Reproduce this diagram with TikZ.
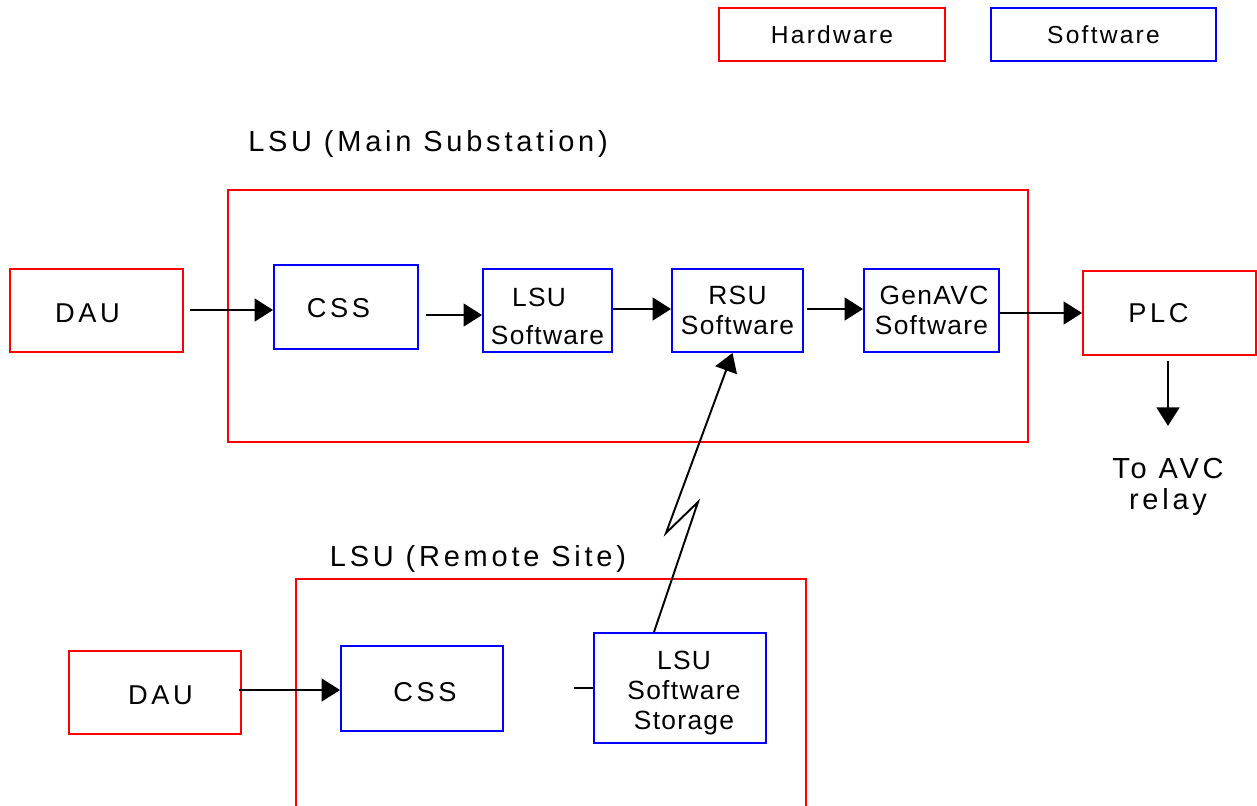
\documentclass[tikz,border=0pt]{standalone}
\usepackage{fontspec}
\setmainfont{Liberation Sans}
\newfontfamily\wideface[LetterSpace=13]{Liberation Sans}
\newfontfamily\midface[LetterSpace=9]{Liberation Sans}
\newfontfamily\boxface[LetterSpace=5]{Liberation Sans}
\usetikzlibrary{arrows.meta,calc}
\definecolor{hwred}{RGB}{255,0,0}
\definecolor{swblue}{RGB}{0,0,255}
\tikzset{
  hw/.style={draw=hwred, line width=1.1pt, inner sep=0pt},
  sw/.style={draw=swblue, line width=1.1pt, inner sep=0pt, align=center},
  titletxt/.style={font=\wideface\fontsize{16.5}{18}\selectfont},
  bigtxt/.style={font=\wideface\fontsize{15.5}{18}\selectfont, text depth=0pt},
  boxtxt/.style={font=\boxface\fontsize{15}{17}\selectfont, align=center, inner sep=0pt},
  legtxt/.style={font=\midface\fontsize{14}{17}\selectfont},
  arr/.style={line width=1.1pt, -{Triangle[length=10.5pt,width=13pt]}},
  wire/.style={line width=1.1pt}
}
\begin{document}
\begin{tikzpicture}[x=0.02cm,y=-0.02cm]
\useasboundingbox (0,0) rectangle (1257,805);
\clip (0,0) rectangle (1257,805);
% legend
\node[hw, legtxt, minimum width=4.52cm, minimum height=1.06cm] (hwleg) at (832,34.5) {Hardware};
\node[sw, legtxt, minimum width=4.5cm, minimum height=1.06cm] (swleg) at (1103.5,34.5) {Software};
% main substation
\node[titletxt] (maintitle) at (428,144) {LSU (Main Substation)};
\node[hw, minimum width=16cm, minimum height=5.04cm] (mainbox) at (628,316) {};
\node[hw, bigtxt, text height=14.2pt, minimum width=3.46cm, minimum height=1.66cm] (dau1) at (96.5,310.5) {\hspace*{-0.36cm}DAU};
\node[sw, bigtxt, text height=12.5pt, minimum width=2.88cm, minimum height=1.68cm] (css1) at (346,307) {\hspace*{-0.3cm}CSS};
\node[sw, minimum width=2.58cm, minimum height=1.66cm] (lsu) at (547.5,310.5) {};
\node[boxtxt, font=\boxface\fontsize{15}{22}\selectfont] (lsutxt) at (lsu.center) [yshift=-0.12cm] {\hspace*{-0.34cm}LSU\\Software};
\node[sw, boxtxt, minimum width=2.62cm, minimum height=1.66cm] (rsu) at (737.5,310.5) {RSU\\Software};
\node[sw, boxtxt, minimum width=2.7cm, minimum height=1.66cm] (genavc) at (931.5,310.5) {\hspace*{0.1cm}GenAVC\\Software};
\node[hw, bigtxt, text height=11.3pt, minimum width=3.46cm, minimum height=1.68cm] (plc) at (1169.5,313) {\hspace*{-0.44cm}PLC};
\node[titletxt, align=center] (avc) at (1168,487) {To AVC\\relay};
% remote site
\node[titletxt] (remtitle) at (478,559) {LSU (Remote Site)};
\node[hw, minimum width=10.2cm, minimum height=5.4cm] (rembox) at (551,714) {};
\node[hw, bigtxt, text height=14.2pt, minimum width=3.44cm, minimum height=1.66cm] (dau2) at (155,692.5) {\hspace*{0.22cm}DAU};
\node[sw, bigtxt, text height=14.8pt, minimum width=3.24cm, minimum height=1.7cm] (css2) at (422,688.5) {\hspace*{0.12cm}CSS};
\node[sw, minimum width=3.44cm, minimum height=2.2cm] (storage) at (680,688) {};
\node[boxtxt] (storagetxt) at (storage.center) [xshift=0.08cm, yshift=-0.1cm] {LSU\\Software\\Storage};
% connectors
\coordinate (a1) at ($(dau1.east)+(6,-0.5)$);
\draw[arr] (a1) -- (css1.west |- a1);
\coordinate (a2) at ($(css1.east)+(7,8)$);
\draw[arr] (a2) -- (lsu.west |- a2);
\draw[arr] ($(lsu.east)+(0,-1.5)$) -- ($(rsu.west)+(0,-1.5)$);
\draw[arr] ($(rsu.east)+(3,-1.5)$) -- ($(genavc.west)+(0,-1.5)$);
\draw[arr] (genavc.east |- plc.west) -- (plc.west);
\draw[arr, shorten <=3pt, shorten >=0.52cm] (plc.south -| avc.north) -- (avc.north);
\coordinate (a3) at ($(dau2.east)+(-3,-2.5)$);
\draw[arr] (a3) -- (css2.west |- a3);
\draw[wire] ($(storage.west)+(-19,0)$) -- (storage.west);
\coordinate (z1) at (698,502);
\coordinate (z2) at (666,533);
\draw[arr, line join=miter] ($(storage.north)+(-26,0)$) -- (z1) -- (z2) -- ($(rsu.south)+(-5,0)$);
\end{tikzpicture}
\end{document}
